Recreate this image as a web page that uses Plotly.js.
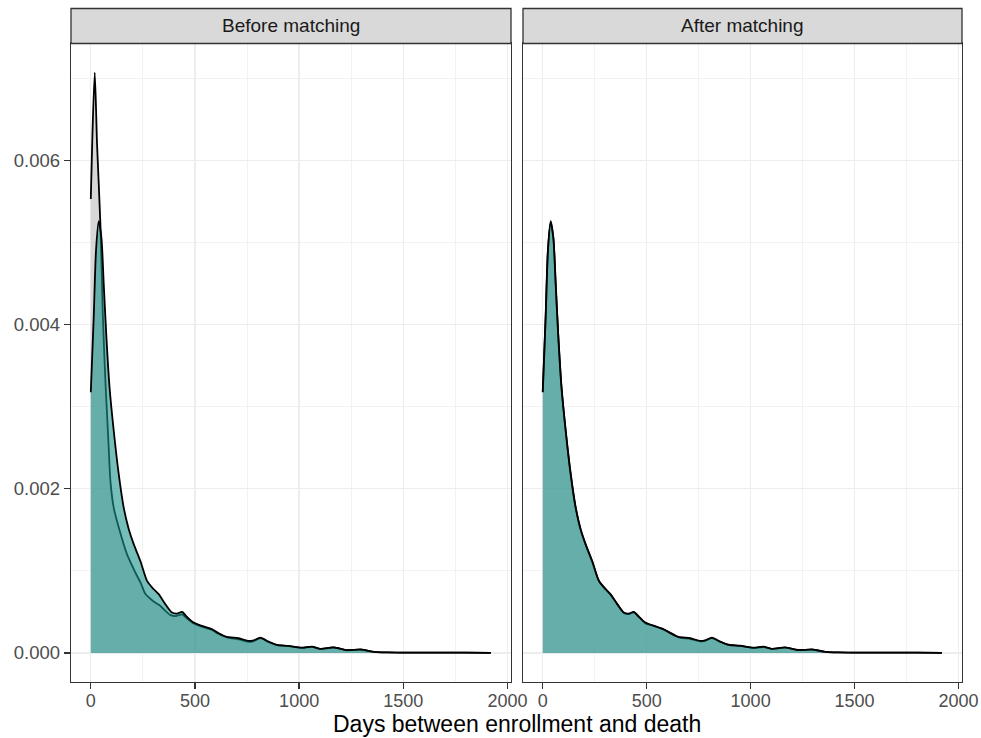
<!DOCTYPE html>
<html>
<head>
<meta charset="utf-8">
<script src="https://cdn.plot.ly/plotly-3.0.1.min.js"></script>
<style>html,body{margin:0;padding:0;background:#fff;}#chart{width:981px;height:738px;}</style>
</head>
<body>
<div id="chart"></div>
<script>
// Panel titles
const panelTitles = ["Before matching", "After matching"];
const xTitle = "Days between enrollment and death";
const xTickVals = [0, 500, 1000, 1500, 2000];
const yTickVals = [0.000, 0.002, 0.004, 0.006];

// Treated group density (teal), same in both panels
const treatedDays = [0, 14, 25, 38, 51, 62, 74, 90, 110, 134, 158, 182, 206, 238, 270, 302, 326, 358, 390, 414, 438, 462, 494, 534, 582, 614, 654, 710, 758, 782, 814, 854, 894, 950, 1014, 1062, 1100, 1166, 1230, 1296, 1360, 1420, 1500, 1600, 1700, 1800, 1920];
const treatedDensity = [0.003175, 0.00409, 0.00490, 0.00526, 0.00506, 0.00450, 0.00389, 0.003236, 0.00271, 0.00218, 0.00177, 0.00151, 0.001325, 0.00112, 0.000878, 0.000776, 0.000716, 0.000594, 0.000492, 0.00048, 0.0005, 0.000439, 0.00037, 0.000329, 0.000289, 0.00024, 0.000195, 0.000179, 0.000146, 0.000154, 0.000187, 0.000138, 0.0000976, 0.0000854, 0.0000646, 0.000077, 0.00005, 0.000068, 0.000035, 0.000042, 0.000014, 0.000006, 0.000004, 0.000004, 0.000003, 0.000003, 0.000002];

// Control group before matching (grey)
const controlBeforeDays = [0, 8, 19, 30, 46, 58, 70, 78, 86, 94, 110, 134, 174, 214, 240, 262, 300, 330, 383, 410, 438, 462, 494, 534, 582, 614, 654, 710, 758, 782, 814, 854, 894, 950, 1014, 1062, 1100, 1166, 1230, 1296, 1360, 1420, 1500, 1600, 1700, 1800, 1920];
const controlBeforeDensity = [0.00553, 0.00633, 0.00707, 0.0062, 0.00523, 0.0041, 0.00332, 0.00291, 0.0025, 0.0021, 0.00177, 0.00153, 0.0012, 0.00098, 0.00085, 0.00072, 0.00063, 0.00058, 0.00046, 0.00045, 0.00047, 0.00042, 0.00036, 0.00032, 0.00028, 0.00023, 0.00019, 0.000165, 0.000135, 0.000145, 0.00018, 0.00013, 0.000095, 0.000082, 0.000062, 0.000074, 0.000048, 0.000066, 0.000033, 0.00004, 0.000013, 0.000006, 0.000004, 0.000004, 0.000003, 0.000003, 0.000002];

// Control group after matching (grey)
const controlAfterDays = [0, 14, 25, 38, 51, 62, 74, 90, 110, 134, 158, 182, 206, 238, 270, 302, 326, 358, 390, 414, 438, 462, 494, 534, 582, 614, 654, 710, 758, 782, 814, 854, 894, 950, 1014, 1062, 1100, 1166, 1230, 1296, 1360, 1420, 1500, 1600, 1700, 1800, 1920];
const controlAfterDensity = [0.00318, 0.0041, 0.00491, 0.00524, 0.00505, 0.00452, 0.0039, 0.00325, 0.00272, 0.00219, 0.00178, 0.0015, 0.00132, 0.00111, 0.00088, 0.00078, 0.00071, 0.0006, 0.000488, 0.000474, 0.000494, 0.000446, 0.00036, 0.000334, 0.000282, 0.000246, 0.00019, 0.000172, 0.00014, 0.00015, 0.00018, 0.000135, 0.0001, 0.000088, 0.00006, 0.00007, 0.00005, 0.000064, 0.000036, 0.00004, 0.000014, 0.000006, 0.000004, 0.000004, 0.000003, 0.000003, 0.000002];

const greyFill = "rgba(175,175,175,0.5)";
const tealFill = "rgba(27,147,140,0.6)";
const lineStyle = {color: "#000000", width: 1.8, shape: "spline", smoothing: 0.7};

function densityTrace(x, y, fill, xa, ya) {
  return {x: x, y: y, type: "scatter", mode: "lines", fill: "tozeroy", fillcolor: fill,
          line: lineStyle, xaxis: xa, yaxis: ya, hoverinfo: "skip", showlegend: false};
}

const data = [
  densityTrace(controlBeforeDays, controlBeforeDensity, greyFill, "x", "y"),
  densityTrace(treatedDays, treatedDensity, tealFill, "x", "y"),
  densityTrace(controlAfterDays, controlAfterDensity, greyFill, "x2", "y2"),
  densityTrace(treatedDays, treatedDensity, tealFill, "x2", "y2")
];

const W = 981, H = 738;
const px = v => v / W;
const py = v => (H - v) / H;
const panelTop = 43.5, panelBottom = 682, stripTop = 8.5;
const leftDom = [px(71), px(511)], rightDom = [px(523), px(962)];
const yDom = [py(panelBottom), py(panelTop)];
const xRange = [-95, 2017];
const yRange = [-0.000354, 0.007424];

const FONT = "Liberation Sans, Arial, sans-serif";
const tickFont = {family: FONT, size: 18, color: "#4D4D4D"};

function xAxis(dom, anchor) {
  return {domain: dom, anchor: anchor, range: xRange, tickvals: xTickVals, ticktext: xTickVals.map(String),
    showline: true, mirror: true, linecolor: "#333333", linewidth: 1.3,
    ticks: "outside", ticklen: 6, tickwidth: 1.3, tickcolor: "#333333", ticklabelstandoff: -4,
    showgrid: true, gridcolor: "#EDEDED", gridwidth: 1.3, zeroline: false,
    minor: {tickvals: [250, 750, 1250, 1750], showgrid: true, gridcolor: "#F2F2F2", gridwidth: 1, ticks: ""},
    tickfont: tickFont, fixedrange: true};
}
function yAxis(anchor, showLabels) {
  return {domain: yDom, anchor: anchor, range: yRange, tickvals: yTickVals,
    ticktext: yTickVals.map(v => v.toFixed(3)), showticklabels: showLabels,
    showline: true, mirror: true, linecolor: "#333333", linewidth: 1.3,
    ticks: showLabels ? "outside" : "", ticklen: 6, tickwidth: 1.3, tickcolor: "#333333",
    showgrid: true, gridcolor: "#EDEDED", gridwidth: 1.3, zeroline: false,
    minor: {tickvals: [0.001, 0.003, 0.005, 0.007], showgrid: true, gridcolor: "#F2F2F2", gridwidth: 1, ticks: ""},
    tickfont: {family: FONT, size: 18.5, color: "#4D4D4D"}, fixedrange: true};
}

const layout = {
  width: W, height: H, margin: {l: 0, r: 0, t: 0, b: 0},
  paper_bgcolor: "#FFFFFF", plot_bgcolor: "#FFFFFF", showlegend: false,
  xaxis: xAxis(leftDom, "y"), yaxis: yAxis("x", true),
  xaxis2: xAxis(rightDom, "y2"), yaxis2: yAxis("x2", false),
  shapes: [
    {type: "rect", xref: "paper", yref: "paper", x0: leftDom[0], x1: leftDom[1], y0: py(panelTop), y1: py(stripTop),
     fillcolor: "#D9D9D9", line: {color: "#333333", width: 1.3}, layer: "above"},
    {type: "rect", xref: "paper", yref: "paper", x0: rightDom[0], x1: rightDom[1], y0: py(panelTop), y1: py(stripTop),
     fillcolor: "#D9D9D9", line: {color: "#333333", width: 1.3}, layer: "above"}
  ],
  annotations: [
    {text: panelTitles[0], xref: "paper", yref: "paper", x: (leftDom[0] + leftDom[1]) / 2, y: py((panelTop + stripTop) / 2),
     xanchor: "center", yanchor: "middle", showarrow: false, font: {family: FONT, size: 19, color: "#1A1A1A"}},
    {text: panelTitles[1], xref: "paper", yref: "paper", x: (rightDom[0] + rightDom[1]) / 2, y: py((panelTop + stripTop) / 2),
     xanchor: "center", yanchor: "middle", showarrow: false, font: {family: FONT, size: 19, color: "#1A1A1A"}},
    {text: xTitle, xref: "paper", yref: "paper", x: (leftDom[0] + rightDom[1]) / 2, y: py(738),
     xanchor: "center", yanchor: "bottom", borderpad: 0, showarrow: false, font: {family: FONT, size: 23, color: "#000000"}}
  ]
};

Plotly.newPlot("chart", data, layout, {displayModeBar: false, staticPlot: true});
</script>
</body>
</html>
